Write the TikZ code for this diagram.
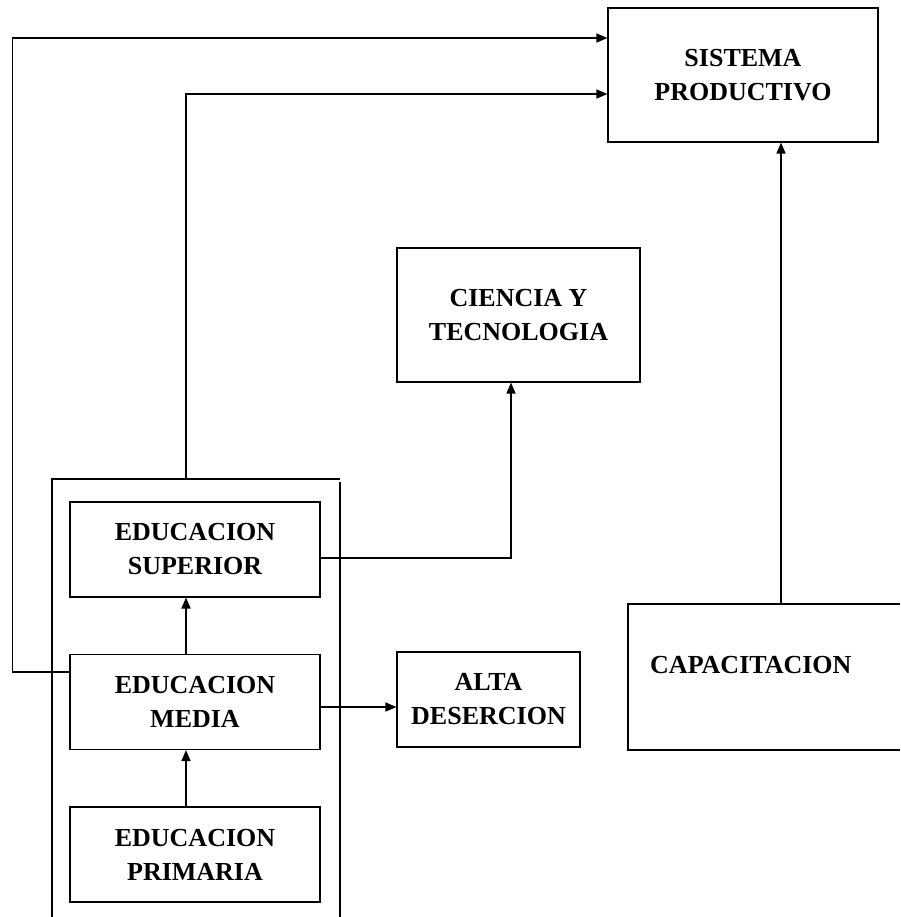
\documentclass[tikz,border=0pt]{standalone}
\usepackage{fontspec}
\setmainfont{Liberation Serif}
\usetikzlibrary{arrows.meta, positioning}

\tikzset{
  caja/.style={draw, line width=1.1pt, minimum width=250pt, minimum height=95pt, inner sep=0pt, align=center, font=\bfseries\fontsize{26}{34}\selectfont},
  texto/.style={font=\bfseries\fontsize{26}{34}\selectfont},
  flecha/.style={-{Triangle[length=11pt,width=9pt]}, line width=1.5pt},
  linea/.style={line width=1.1pt}
}

\begin{document}
\begin{tikzpicture}[x=1pt,y=-1pt]
        \useasboundingbox (0,0) rectangle (900,917);

        % Sistema productivo
        \node[caja, minimum width=270pt, minimum height=134pt] (sistema) at (743,75) {SISTEMA\\PRODUCTIVO};

        % Ciencia y tecnologia
        \node[caja, minimum width=243pt, minimum height=134pt] (ciencia) at (518.5,315) {CIENCIA Y\\TECNOLOGIA};

        % Niveles de educacion
        \node[caja] (superior) at (195,549.5) {EDUCACION\\SUPERIOR};
        \node[caja] (media) at (195,702) {EDUCACION\\MEDIA};
        \node[caja] (primaria) at (195,854.5) {EDUCACION\\PRIMARIA};

        % Marco abierto
        \draw[linea] (52,917) -- (52,479) -- (340,479);
        \draw[linea] (340,482) -- (340,917);
        \coordinate (marco) at (186,479);

        % Alta desercion
        \node[caja, minimum width=183pt] (alta) at (488.5,699.5) {ALTA\\DESERCION};

        % Capacitacion (abierta a la derecha)
        \draw[linea] (900,604) -| (628,750) -- (900,750);
        \node[texto, anchor=base west, inner sep=0pt] (capacitacion) at (650,673) {CAPACITACION};
        \coordinate (capa) at (781,604);

        % Flechas
        \draw[flecha] (primaria.north -| marco) -- (media.south -| marco);
        \draw[flecha] (media.north -| marco) -- (superior.south -| marco);
        \draw[flecha] (marco) |- ([yshift=-19pt]sistema.west);
        \draw[flecha] ([yshift=30pt]media.west) -- ++(-57,0) |- ([yshift=37pt]sistema.west);
        \draw[flecha] ([yshift=-8.5pt]superior.east) -| ([xshift=-7.5pt]ciencia.south);
        \draw[flecha] ([yshift=-5pt]media.east) -- ([yshift=-5pt]media.east -| alta.west);
        \draw[flecha] (capa) -- (capa |- sistema.south);

    \end{tikzpicture}
\end{document}
